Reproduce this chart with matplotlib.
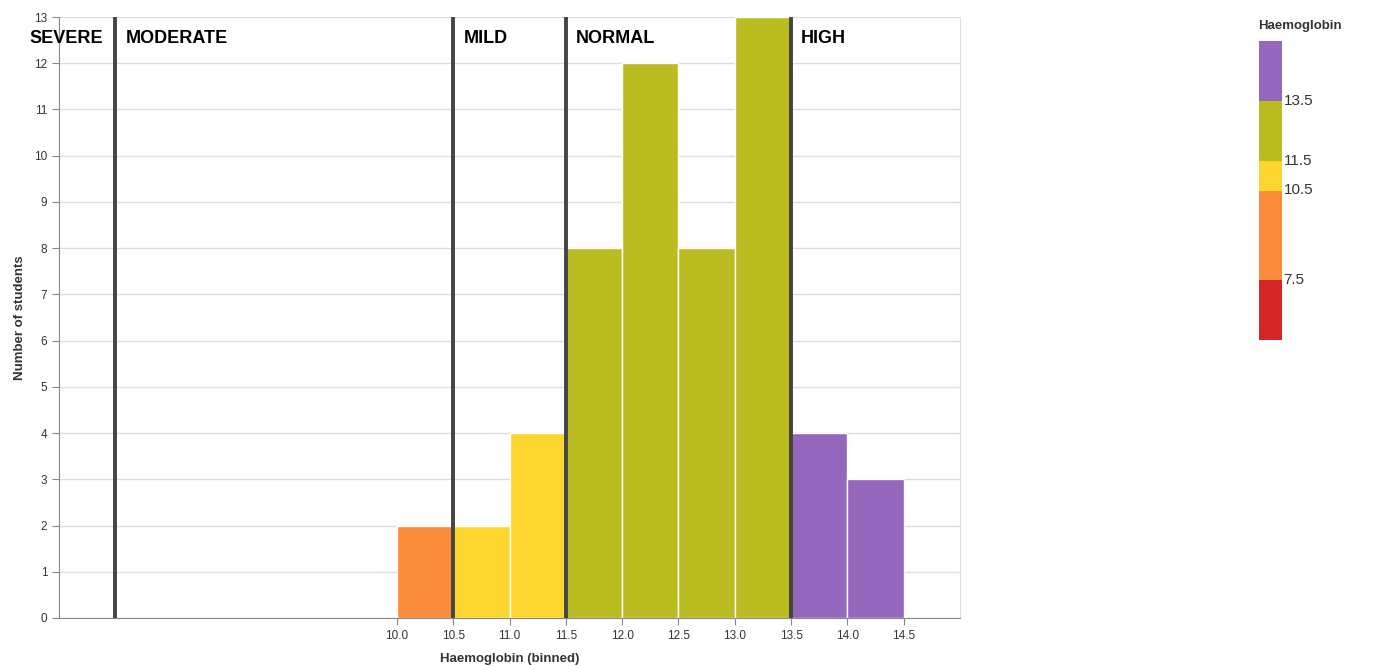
import matplotlib.pyplot as plt
import matplotlib.colors as mcolors
import matplotlib.colorbar as mcolorbar

plt.rcParams['font.family'] = ['Liberation Sans', 'DejaVu Sans']

# histogram bins (left edges, width 0.5) and counts
bin_left = [10.0, 10.5, 11.0, 11.5, 12.0, 12.5, 13.0, 13.5, 14.0]
counts = [2, 2, 4, 8, 12, 8, 13, 4, 3]
bin_width = 0.5

# anaemia categories
band_edges = [5.5, 7.5, 10.5, 11.5, 13.5, 15.5]
band_colors = ['#d62728', '#f98b3a', '#fdd52f', '#bbbb22', '#9467bd']
cut_lines = [7.5, 10.5, 11.5, 13.5]
band_names = ['SEVERE', 'MODERATE', 'MILD', 'NORMAL', 'HIGH']
name_x = [6.74, 7.59, 10.59, 11.59, 13.59]

x_ticks = [10.0, 10.5, 11.0, 11.5, 12.0, 12.5, 13.0, 13.5, 14.0, 14.5]


def band_color(v):
    for i in range(len(band_edges) - 1):
        if band_edges[i] <= v < band_edges[i + 1]:
            return band_colors[i]
    return band_colors[-1]


fig = plt.figure(figsize=(13.77, 6.66), dpi=100)
ax = fig.add_axes([59 / 1377, 48 / 666, 901 / 1377, 601 / 666])

cols = [band_color(x + bin_width / 2) for x in bin_left]
ax.bar(bin_left, counts, width=bin_width, align='edge', color=cols,
       edgecolor='white', linewidth=1, zorder=2)

for c in cut_lines:
    ax.axvline(c, color='#444444', lw=2.8, zorder=3)

for name, x in zip(band_names, name_x):
    ax.text(x, 12.54, name, fontsize=13, fontweight='bold', color='black',
            ha='left', va='center', zorder=4)

ax.set_xlim(7.0, 15.0)
ax.set_ylim(0, 13)
ax.set_xticks(x_ticks)
ax.set_xticklabels([f'{t:.1f}' for t in x_ticks])
ax.set_yticks(range(0, 14))
ax.yaxis.grid(True, color='#dddddd', lw=1, zorder=0)
ax.set_axisbelow(True)

for s in ['left', 'bottom']:
    ax.spines[s].set_color('#888888')
ax.spines['right'].set_color('#dddddd')
ax.spines['top'].set_visible(False)
ax.tick_params(colors='#888888', labelcolor='#333333', labelsize=8.5, length=5)

ax.set_xlabel('Haemoglobin (binned)', fontsize=9.5, fontweight='bold',
              color='#333333', labelpad=8)
ax.set_ylabel('Number of students', fontsize=9.5, fontweight='bold',
              color='#333333', labelpad=6)

# legend as discrete colour bar
cax = fig.add_axes([1259 / 1377, (666 - 340) / 666, 23 / 1377, 299 / 666])
cmap = mcolors.ListedColormap(band_colors)
norm = mcolors.BoundaryNorm(band_edges, cmap.N)
cb = mcolorbar.ColorbarBase(cax, cmap=cmap, norm=norm, boundaries=band_edges,
                            spacing='proportional', ticks=cut_lines,
                            orientation='vertical')
cb.outline.set_visible(False)
cax.minorticks_off()
cax.tick_params(which='both', length=0, labelsize=11, labelcolor='#333333', pad=1)
cax.set_yticklabels([str(c) for c in cut_lines])
for lbl in cax.get_yticklabels():
    lbl.set_va('center')
fig.text(1258 / 1377, 1 - 26 / 666, 'Haemoglobin', fontsize=9.5,
         fontweight='bold', color='#333333', ha='left', va='center')

fig.savefig('out.png', dpi=100)
